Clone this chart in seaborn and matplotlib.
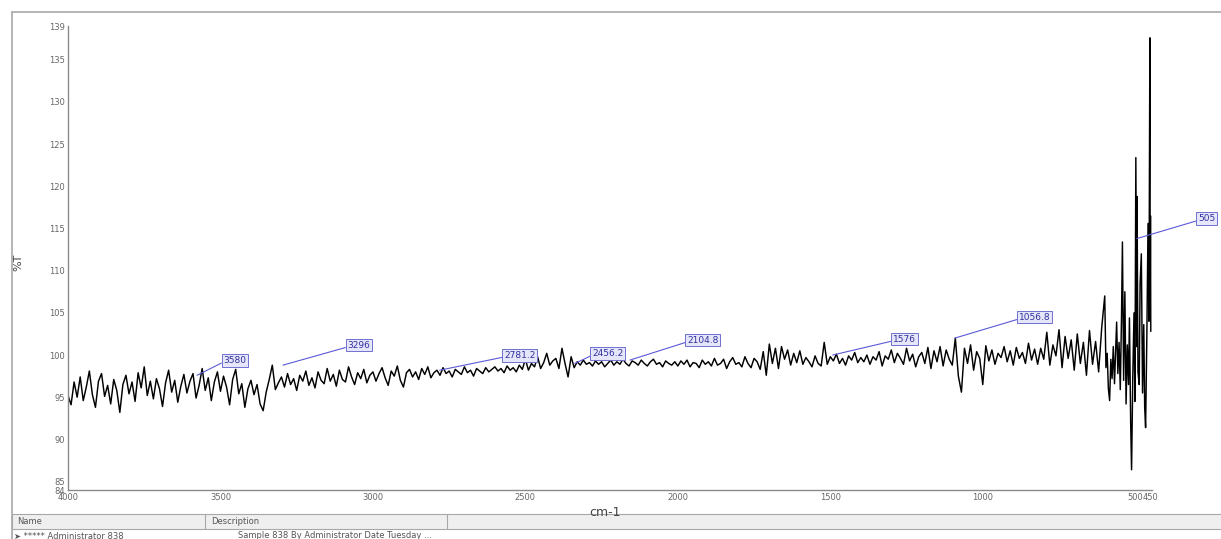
import numpy as np
import pandas as pd
import matplotlib
matplotlib.use("Agg")
import matplotlib.pyplot as plt
import seaborn as sns
from matplotlib.lines import Line2D
from matplotlib.patches import Rectangle

# --- spectrum values (%T), 4000 -> 610 cm-1 every 10 cm-1 ---
t_main = [
    95.2, 94.1, 96.8, 95.0, 97.4, 94.6, 96.2, 98.1, 95.3, 93.8, 96.9, 97.8, 95.1, 96.4, 94.2, 97.1, 95.8, 93.2, 96.5, 97.6,
    95.4, 96.8, 94.5, 97.9, 96.1, 98.6, 95.2, 96.9, 94.8, 97.2, 96.0, 93.9, 96.7, 98.2, 95.6, 97.0, 94.4, 96.3, 97.7, 95.5,
    96.9, 97.8, 94.9, 96.4, 98.4, 95.8, 97.3, 94.6, 96.8, 98.0, 95.7, 97.5, 96.2, 94.1, 97.1, 98.3, 95.4, 96.6, 93.8, 96.0,
    97.0, 95.3, 96.5, 94.2, 93.4, 95.6, 97.1, 98.8, 95.9, 96.7, 97.4, 96.2, 97.8, 96.5, 97.2, 95.8, 97.6, 96.9, 98.1, 96.4,
    97.3, 96.1, 98.0, 97.0, 96.6, 98.4, 96.9, 97.7, 96.3, 98.2, 97.1, 96.8, 98.6, 97.4, 96.5, 97.9, 97.2, 98.3, 96.7, 97.6,
    98.0, 96.9, 97.8, 98.5, 97.3, 96.4, 98.1, 97.5, 98.7, 97.0, 96.2, 97.9, 98.3, 97.4, 98.0, 97.1, 98.4, 97.7, 98.6, 97.3,
    97.9, 98.2, 97.6, 98.5, 97.8, 98.1, 97.4, 98.3, 98.0, 97.7, 98.6, 97.9, 98.2, 97.5, 98.4, 98.1, 97.8, 98.5, 98.0, 98.3,
    98.6, 98.1, 98.4, 97.9, 98.7, 98.2, 98.5, 98.0, 98.8, 98.3, 99.5, 98.2, 99.0, 98.6, 99.8, 98.4, 99.1, 100.2, 98.8, 99.3,
    99.6, 98.4, 100.8, 99.0, 97.4, 99.8, 98.5, 99.2, 98.8, 99.4, 98.9, 99.1, 98.7, 99.3, 98.9, 99.2, 98.6, 99.0, 99.4, 98.8,
    99.2, 98.9, 99.5, 99.0, 98.7, 99.3, 99.1, 98.8, 99.4, 99.0, 98.7, 99.2, 99.5, 98.9, 99.1, 98.6, 99.3, 99.0, 98.8, 99.2,
    98.7, 99.3, 98.9, 99.4, 98.6, 99.1, 99.0, 98.5, 99.4, 98.9, 99.2, 98.7, 99.6, 98.8, 99.0, 99.5, 98.4, 99.2, 99.7, 98.9,
    99.1, 98.6, 99.8, 99.0, 98.5, 99.6, 99.2, 98.3, 100.4, 97.6, 101.3, 99.0, 100.8, 98.4, 101.0, 99.5, 100.6, 98.8, 100.2, 99.1,
    100.5, 98.9, 99.7, 99.2, 98.6, 99.9, 99.0, 98.7, 101.5, 98.9, 99.8, 99.3, 100.1, 99.0, 99.6, 98.8, 99.9, 99.4, 100.3, 99.1,
    99.7, 99.2, 100.0, 98.9, 99.8, 99.4, 100.4, 98.7, 99.9, 99.5, 100.6, 99.1, 100.2, 99.6, 98.9, 100.8, 99.3, 100.1, 98.6, 99.8,
    100.3, 99.0, 100.9, 98.4, 100.5, 99.2, 101.0, 98.7, 100.6, 99.5, 98.8, 102.0, 97.5, 95.6, 100.8, 99.0, 101.2, 98.2, 100.4, 99.6,
    96.5, 101.1, 99.3, 100.6, 98.9, 100.2, 99.7, 101.0, 99.2, 100.5, 98.8, 100.9, 99.6, 100.3, 99.0, 101.4, 99.4, 100.7, 98.9, 100.8,
    99.5, 102.7, 98.8, 101.2, 99.9, 103.0, 98.5, 102.2, 99.6, 101.8, 98.2, 102.5, 99.0, 101.5, 97.6, 102.9, 98.9, 101.6, 98.0, 103.2,
]
wn_main = np.arange(4000, 600, -10)

# low-wavenumber end, read at finer spacing
wn_tail = [600, 596, 592, 588, 584, 580, 576, 572, 568, 564, 561, 557, 553, 549, 545, 542, 538, 534,
           530, 526, 522, 519, 515, 512, 508, 504, 501, 498, 495, 494, 491, 487, 484, 480, 476, 472,
           469, 466, 462, 458, 455, 452, 451, 450, 449]
t_tail = [107.0, 98.5, 100.2, 96.0, 94.6, 99.5, 97.2, 101.0, 96.6, 100.8, 103.9, 97.8, 101.5, 95.9, 104.5,
          113.4, 97.0, 107.5, 94.2, 101.2, 96.5, 104.4, 92.0, 86.4, 97.5, 105.0, 94.5, 123.4, 101.0, 118.8,
          98.0, 96.5, 108.5, 112.0, 95.5, 103.6, 93.8, 91.4, 102.0, 115.6, 104.0, 137.6, 105.0, 116.5, 102.8]

# picked peaks
peak_wn = [3577, 3295, 2781, 2338, 2157, 1492, 1092, 495]
peak_t = [97.6, 98.8, 98.2, 99.0, 99.4, 100.0, 102.0, 113.8]
peak_labels = ["3580", "3296", "2781.2", "2456.2", "2104.8", "1576", "1056.8", "505"]
label_offsets = [(38, 15), (76, 20), (80, 15), (33, 10), (73, 20), (72, 16), (80, 21), (70, 20)]

y_ticks = [84, 85, 90, 95, 100, 105, 110, 115, 120, 125, 130, 135, 139]
x_ticks = [4000, 3500, 3000, 2500, 2000, 1500, 1000, 500, 450]

df = pd.DataFrame({
    "wn": np.concatenate([wn_main, wn_tail]),
    "T": np.concatenate([t_main, t_tail]),
})

sns.set_style("white")
plt.rcParams["font.family"] = ["DejaVu Sans"]

fig = plt.figure(figsize=(12.21, 5.39), dpi=100)
ax = fig.add_axes([68 / 1221, 49 / 539, 1084 / 1221, 464 / 539])

sns.lineplot(data=df, x="wn", y="T", sort=False, estimator=None, color="black", lw=1.05, ax=ax)

ax.set_xlim(4000, 445)
ax.set_ylim(84, 139)
ax.set_xticks(x_ticks)
ax.set_xticklabels([str(v) for v in x_ticks])
ax.set_yticks(y_ticks)
ax.tick_params(axis="both", labelsize=6, colors="#666666", length=3, width=0.6, direction="inout", pad=1)
for s in ["top", "right"]:
    ax.spines[s].set_visible(False)
for s in ["left", "bottom"]:
    ax.spines[s].set_color("#8a8a8a")
    ax.spines[s].set_linewidth(1.0)
ax.set_xlabel("")
ax.set_ylabel("")

fig.text(605 / 1221, 1 - 512 / 539, "cm-1", fontsize=9, color="#444444", ha="center", va="center")
fig.text(18 / 1221, 1 - 262 / 539, "%T", fontsize=8, color="#444444", rotation=90, ha="center", va="center")

# peak labels
for wn, t, lab, (dx, dy) in zip(peak_wn, peak_t, peak_labels, label_offsets):
    ax.annotate(lab, xy=(wn, t), xytext=(dx, dy), textcoords="offset pixels",
                ha="center", va="center", fontsize=6.5, color="#3030a0", annotation_clip=False,
                bbox=dict(boxstyle="square,pad=0.2", fc="#e6e6fa", ec="#6f6fd0", lw=0.7),
                arrowprops=dict(arrowstyle="-", color="#5a5ad8", lw=0.8,
                                shrinkA=0, shrinkB=0, relpos=(0, 0.3)))

# window frame and the table strip below the plot
gray = "#a8a8a8"
fig.add_artist(Line2D([12 / 1221, 1], [1 - 12 / 539, 1 - 12 / 539], color=gray, lw=1.2))
fig.add_artist(Line2D([12 / 1221, 12 / 1221], [0, 1 - 12 / 539], color=gray, lw=1.2))
fig.add_artist(Rectangle((12 / 1221, 1 - 529 / 539), 1, 15 / 539, transform=fig.transFigure,
                         fc="#efefef", ec=gray, lw=0.8))
for xc in [205, 447]:
    fig.add_artist(Line2D([xc / 1221, xc / 1221], [1 - 529 / 539, 1 - 514 / 539], color=gray, lw=0.8))
fig.text(17 / 1221, 1 - 521 / 539, "Name", fontsize=6, color="#555555", va="center")
fig.text(211 / 1221, 1 - 521 / 539, "Description", fontsize=6, color="#555555", va="center")
fig.text(14 / 1221, 1 - 536 / 539, "\u27a4 ***** Administrator 838", fontsize=6, color="#555555", va="center")
fig.text(238 / 1221, 1 - 536 / 539, "Sample 838 By Administrator Date Tuesday ...", fontsize=6,
         color="#555555", va="center")

fig.savefig("out.png", dpi=100)
